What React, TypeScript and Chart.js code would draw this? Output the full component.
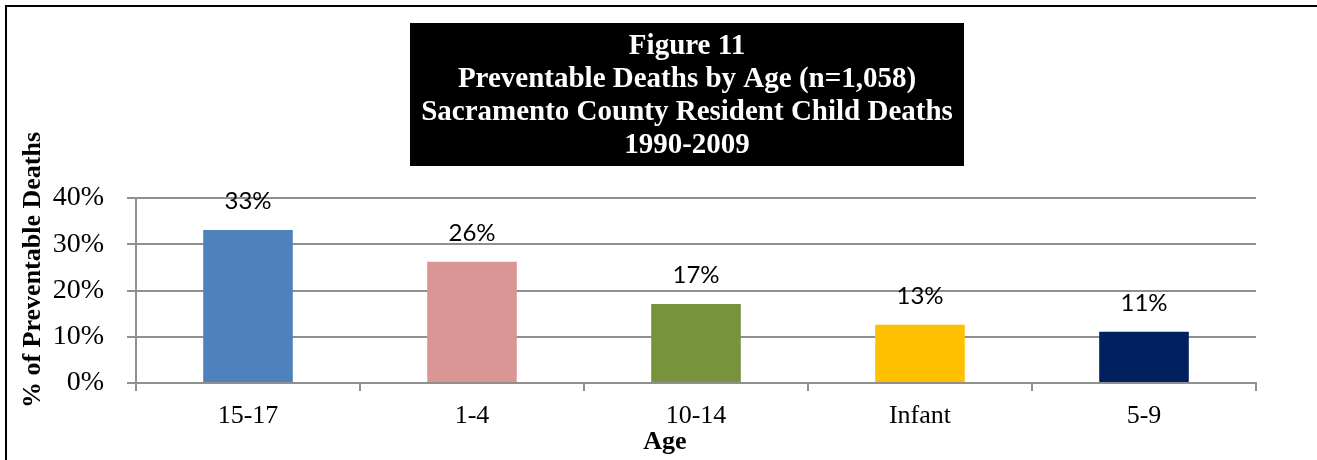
import React, { useEffect, useRef } from "react";
import { Chart, registerables } from "chart.js";

Chart.register(...registerables);

const categories = ["15-17", "1-4", "10-14", "Infant", "5-9"];
const values = [33.1, 26.2, 17.1, 12.6, 11.1];
const barColors = ["#4F81BD", "#D99694", "#77933C", "#FFC000", "#002060"];
const titleLines = [
  "Figure 11",
  "Preventable Deaths by Age (n=1,058)",
  "Sacramento County Resident Child Deaths",
  "1990-2009",
];
const yAxisTitle = "% of Preventable Deaths";
const xAxisTitle = "Age";

const SERIF = "'Liberation Serif', 'Times New Roman', serif";
const GRID = "#8f8f8f";

const decorPlugin = {
  id: "decor",
  beforeDraw(chart: any) {
    const ctx = chart.ctx;
    ctx.save();
    ctx.fillStyle = "#fff";
    ctx.fillRect(0, 0, chart.width, chart.height);
    ctx.strokeStyle = "#000";
    ctx.lineWidth = 2;
    ctx.beginPath();
    ctx.moveTo(6, chart.height);
    ctx.lineTo(6, 6);
    ctx.lineTo(chart.width, 6);
    ctx.stroke();
    ctx.restore();
  },
  afterDraw(chart: any) {
    const ctx = chart.ctx;
    ctx.save();
    // title box
    ctx.fillStyle = "#000";
    ctx.fillRect(410, 23, 554, 143);
    ctx.fillStyle = "#fff";
    ctx.font = `bold 29px ${SERIF}`;
    ctx.textAlign = "center";
    ctx.textBaseline = "alphabetic";
    const baselines = [54, 87, 120, 153];
    titleLines.forEach((t, i) => ctx.fillText(t, 687, baselines[i]));
    // y axis title
    ctx.fillStyle = "#000";
    ctx.font = `bold 26px ${SERIF}`;
    ctx.save();
    ctx.translate(33, 270);
    ctx.rotate(-Math.PI / 2);
    ctx.textBaseline = "middle";
    ctx.fillText(yAxisTitle, 0, 0);
    ctx.restore();
    // x axis title
    ctx.font = `bold 26px ${SERIF}`;
    ctx.textBaseline = "middle";
    ctx.fillText(xAxisTitle, 665, 442);
    // data labels
    const meta = chart.getDatasetMeta(0);
    ctx.font = `24px Lato, 'Open Sans', sans-serif`;
    ctx.textBaseline = "alphabetic";
    meta.data.forEach((bar: any, i: number) => {
      const v = chart.data.datasets[0].data[i] as number;
      ctx.fillText(Math.round(v) + "%", bar.x, bar.y - 21);
    });
    ctx.restore();
  },
};

export default function App() {
  const ref = useRef<HTMLCanvasElement>(null);
  useEffect(() => {
    document.body.style.margin = "0";
    const chart = new Chart(ref.current as HTMLCanvasElement, {
      type: "bar",
      data: {
        labels: categories,
        datasets: [
          {
            data: values,
            backgroundColor: barColors,
            borderWidth: 0,
            categoryPercentage: 1,
            barPercentage: 0.4,
          },
        ],
      },
      options: {
        responsive: false,
        animation: false,
        devicePixelRatio: 1,
        layout: { padding: { top: 198, right: 61, left: 0, bottom: 0 } },
        plugins: {
          legend: { display: false },
          tooltip: { enabled: false },
          title: { display: false },
        },
        scales: {
          x: {
            offset: true,
            grid: {
              offset: true,
              drawOnChartArea: false,
              drawTicks: true,
              tickLength: 8,
              color: GRID,
              lineWidth: 2,
            },
            border: { color: GRID, width: 2 },
            ticks: {
              color: "#000",
              font: { family: SERIF, size: 26 },
              padding: 10,
              maxRotation: 0,
            },
            afterFit: (s: any) => {
              s.height = 77;
            },
          },
          y: {
            min: 0,
            max: 40,
            ticks: {
              stepSize: 10,
              color: "#000",
              font: { family: SERIF, size: 28 },
              padding: 23,
              callback: (v: any) => v + "%",
            },
            grid: { color: GRID, lineWidth: 2, tickLength: 9 },
            border: { color: GRID, width: 2 },
            afterFit: (s: any) => {
              s.width = 136;
            },
          },
        },
      },
      plugins: [decorPlugin],
    });
    return () => chart.destroy();
  }, []);
  return (
    <div style={{ width: 1317, height: 460 }}>
      <canvas ref={ref} width={1317} height={460} />
    </div>
  );
}
